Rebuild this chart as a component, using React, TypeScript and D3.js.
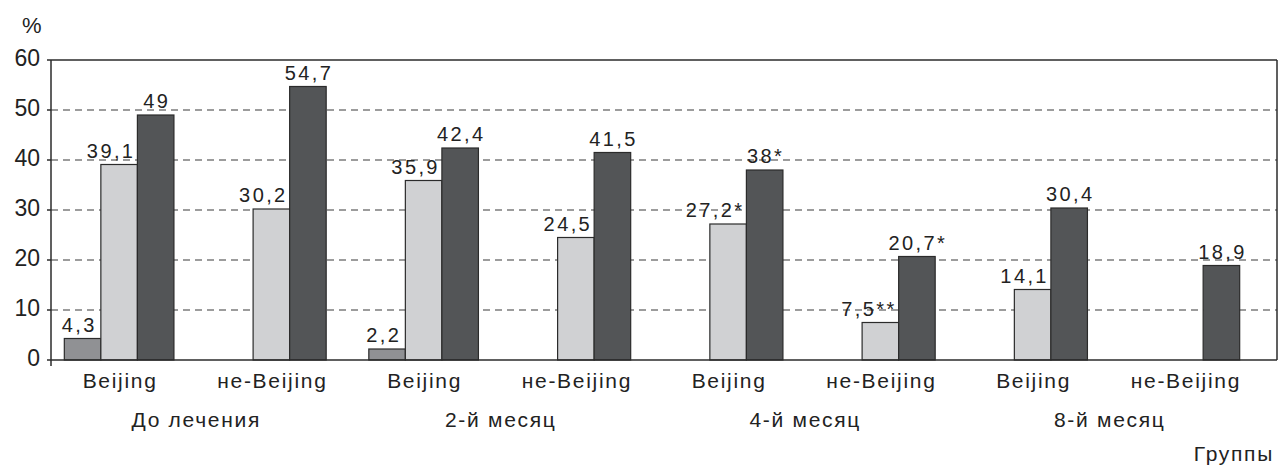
import * as d3 from 'd3';

const groups = ['Beijing', 'не-Beijing', 'Beijing', 'не-Beijing', 'Beijing', 'не-Beijing', 'Beijing', 'не-Beijing'];
const periods = ['До лечения', '2-й месяц', '4-й месяц', '8-й месяц'];
const seriesA: (number | null)[] = [4.3, null, 2.2, null, null, null, null, null];
const seriesB: (number | null)[] = [39.1, 30.2, 35.9, 24.5, 27.2, 7.5, 14.1, null];
const seriesC: (number | null)[] = [49, 54.7, 42.4, 41.5, 38, 20.7, 30.4, 18.9];
const suffixB = ['', '', '', '', '*', '**', '', ''];
const suffixC = ['', '', '', '', '*', '*', '', ''];
const yTicks = [0, 10, 20, 30, 40, 50, 60];

const W = 1279;
const H = 466;
const FONT = '"Liberation Sans", Arial, Helvetica, sans-serif';
const INK = '#2b2b2b';
const colors = ['#909194', '#d0d1d3', '#535557'];

const fmt = (v: number) => String(v).replace('.', ',');

export default function App() {
    const plotLeft = 51;
    const plotRight = 1277;
    const y = d3.scaleLinear().domain([0, 60]).range([360, 60]);
    const x = d3
        .scaleBand<number>()
        .domain(groups.map((_, i) => i))
        .range([43, 1261])
        .paddingInner(0.28)
        .paddingOuter(0.14);
    const xs = d3.scaleBand<number>().domain([0, 1, 2]).range([0, x.bandwidth()]);
    const series = [seriesA, seriesB, seriesC];
    const suffixes = [groups.map(() => ''), suffixB, suffixC];

    return (
        <svg
            width={W}
            height={H}
            style={{ position: 'absolute', left: 0, top: 0, background: '#fff' }}
            fontFamily={FONT}
        >
            {/* grid */}
            {yTicks
                .filter((t) => t > 0 && t < 60)
                .map((t) => (
                    <line
                        key={t}
                        x1={plotLeft}
                        x2={plotRight}
                        y1={y(t)}
                        y2={y(t)}
                        stroke="#3a3a3a"
                        strokeWidth={1.2}
                        strokeDasharray="7,5"
                    />
                ))}
            {/* frame */}
            <line x1={plotLeft} x2={plotRight} y1={y(60)} y2={y(60)} stroke={INK} strokeWidth={1.5} />
            <line x1={plotRight} x2={plotRight} y1={y(60)} y2={y(0)} stroke={INK} strokeWidth={1.5} />

            {/* bars */}
            {series.map((s, si) =>
                s.map((v, gi) =>
                    v == null ? null : (
                        <rect
                            key={`${si}-${gi}`}
                            x={(x(gi) ?? 0) + (xs(si) ?? 0)}
                            y={y(v)}
                            width={xs.bandwidth()}
                            height={y(0) - y(v)}
                            fill={colors[si]}
                            stroke={INK}
                            strokeWidth={1.2}
                        />
                    ),
                ),
            )}

            {/* value labels */}
            {series.map((s, si) =>
                s.map((v, gi) => {
                    if (v == null) return null;
                    const bx = (x(gi) ?? 0) + (xs(si) ?? 0);
                    const bw = xs.bandwidth();
                    const anchor = si === 2 ? 'middle' : 'end';
                    const tx = si === 2 ? bx + bw / 2 + 1 : bx + bw - (si === 0 ? 4 : 2);
                    return (
                        <text
                            key={`l-${si}-${gi}`}
                            x={tx}
                            y={y(v) - 7}
                            textAnchor={anchor}
                            fontSize={20}
                            letterSpacing={2.4}
                            fill="#222"
                        >
                            {fmt(v) + suffixes[si][gi]}
                        </text>
                    );
                }),
            )}

            {/* axes */}
            <line x1={plotLeft} x2={plotLeft} y1={y(60)} y2={y(0) + 6} stroke={INK} strokeWidth={1.5} />
            <line x1={plotLeft} x2={plotRight} y1={y(0)} y2={y(0)} stroke={INK} strokeWidth={1.5} />
            {yTicks.map((t) => (
                <g key={`t-${t}`}>
                    <line x1={plotLeft - 4} x2={plotLeft} y1={y(t)} y2={y(t)} stroke={INK} strokeWidth={1.5} />
                    <text
                        x={40}
                        y={y(t) - 2}
                        dy="0.36em"
                        textAnchor="end"
                        fontSize={23}
                        fill="#222"
                    >
                        {t}
                    </text>
                </g>
            ))}

            {/* category labels */}
            {groups.map((g, gi) => (
                <text
                    key={`g-${gi}`}
                    x={(x(gi) ?? 0) + x.bandwidth() / 2 + 1}
                    y={388}
                    textAnchor="middle"
                    fontSize={21}
                    letterSpacing={1.7}
                    fill="#222"
                >
                    {g}
                </text>
            ))}
            {periods.map((p, pi) => {
                const c = ((x(pi * 2) ?? 0) + (x(pi * 2 + 1) ?? 0) + x.bandwidth()) / 2;
                return (
                    <text
                        key={`p-${pi}`}
                        x={c + 1}
                        y={427}
                        textAnchor="middle"
                        fontSize={21}
                        letterSpacing={1.7}
                        fill="#222"
                    >
                        {p}
                    </text>
                );
            })}

            <text x={22} y={33} fontSize={22} fill="#222">
                %
            </text>
            <text x={1274} y={461} textAnchor="end" fontSize={21} letterSpacing={1.7} fill="#222">
                Группы
            </text>
        </svg>
    );
}
